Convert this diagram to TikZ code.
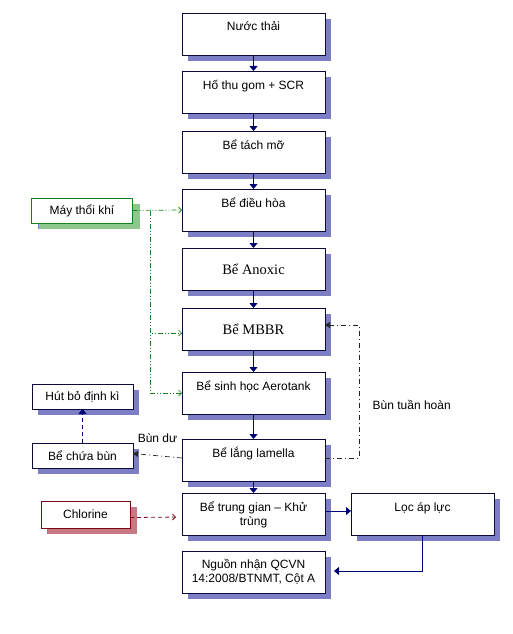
\documentclass[tikz,border=0pt]{standalone}
\usepackage{fontspec}
\setmainfont{Liberation Sans}
\newfontfamily\serifbox{Liberation Serif}
\usepackage{xcolor}
\usetikzlibrary{arrows.meta,positioning,shadows}

\definecolor{navyline}{RGB}{0,0,120}
\definecolor{boxline}{RGB}{10,10,60}
\definecolor{shadowblue}{RGB}{126,126,196}
\definecolor{airgreen}{RGB}{20,130,30}
\definecolor{shadowgreen}{RGB}{140,200,140}
\definecolor{chlorred}{RGB}{120,10,20}
\definecolor{shadowred}{RGB}{200,120,130}

\newcommand{\toptext}[1]{\parbox[t][30pt][t]{137pt}{\centering\rule{0pt}{12pt}#1}}

\begin{document}
\begin{tikzpicture}[
    x=1pt, y=-1pt,
    font=\fontsize{12}{14}\selectfont,
    stage/.style={
        draw=boxline,
        fill=white,
        line width=0.8pt,
        outer sep=0pt,
        minimum width=143pt,
        minimum height=42pt,
        inner xsep=3pt,
        inner ysep=6pt,
        align=center,
        general shadow={fill=shadowblue, shadow xshift=6pt, shadow yshift=-6pt}
    },
    sidebox/.style={
        draw=boxline,
        fill=white,
        line width=0.8pt,
        outer sep=0pt,
        minimum width=101pt,
        minimum height=25pt,
        inner sep=2pt,
        general shadow={fill=shadowblue, shadow xshift=6pt, shadow yshift=-6pt}
    },
    airbox/.style={
        sidebox,
        draw=airgreen,
        general shadow={fill=shadowgreen, shadow xshift=7pt, shadow yshift=-6pt}
    },
    chlorbox/.style={
        sidebox,
        draw=chlorred,
        minimum width=89pt,
        minimum height=27pt,
        general shadow={fill=shadowred, shadow xshift=7pt, shadow yshift=-6pt}
    },
    flow/.style={
        -{Triangle[length=5pt,width=8pt]},
        draw=navyline,
        line width=0.8pt
    },
    air/.style={
        -{Straight Barb[length=3pt,width=6pt]},
        draw=airgreen,
        line width=0.7pt,
        dash pattern=on 5pt off 2pt on 1pt off 2pt on 1pt off 2pt
    },
    sludge/.style={
        -{Triangle[length=5pt,width=6pt]},
        draw=black!85,
        line width=0.7pt,
        dash pattern=on 5pt off 3pt on 1pt off 3pt
    },
    dose/.style={
        -{Straight Barb[length=3pt,width=6pt]},
        draw=chlorred,
        line width=0.8pt,
        dash pattern=on 4pt off 3pt
    }
]

\useasboundingbox (0,0) rectangle (512,634);

%---------------------------------------------------------------------
% Main treatment line
%---------------------------------------------------------------------

\node[stage] (n1) at (253.5,34) {\toptext{Nước thải}};
\node[stage, below=16pt of n1] (n2) {\toptext{Hố thu gom + SCR}};
\node[stage, below=18pt of n2] (n3) {\toptext{Bể tách mỡ}};
\node[stage, below=16pt of n3] (n4) {\toptext{Bể điều hòa}};
\node[stage, below=17pt of n4, font=\serifbox\fontsize{14.5}{16}\selectfont] (n5) {Bể Anoxic};
\node[stage, below=18pt of n5, font=\serifbox\fontsize{14.5}{16}\selectfont] (n6) {Bể MBBR};
\node[stage, below=22pt of n6] (n7) {\toptext{Bể sinh học Aerotank}};
\node[stage, below=25pt of n7] (n8) {\toptext{Bể lắng lamella}};
\node[stage, below=12pt of n8] (n9) {\toptext{Bể trung gian – Khử\\trùng}};
\node[stage, below=16pt of n9] (n10) {Nguồn nhận QCVN\\14:2008/BTNMT, Cột A};

\node[stage, right=26pt of n9] (filter) {\toptext{Lọc áp lực}};

%---------------------------------------------------------------------
% Side units
%---------------------------------------------------------------------

\node[airbox] (blower) at (82,210.5) {Máy thổi khí};
\node[sidebox] (disposal) at (82.5,396.5) {Hút bỏ định kì};
\node[sidebox] (sludgetank) at (82.5,455.5) {Bể chứa bùn};
\node[chlorbox] (chlorine) at (85.5,514.5) {Chlorine};

%---------------------------------------------------------------------
% Main flow
%---------------------------------------------------------------------

\foreach \a/\b in {n1/n2, n2/n3, n3/n4, n4/n5, n5/n6, n6/n7, n7/n8, n8/n9}
    \draw[flow] (\a.south) -- (\b.north);

\draw[flow] ([yshift=3pt]n9.east) -- ([yshift=3pt]filter.west);
\draw[flow, shorten >=9pt] (filter.south) |- ([yshift=1pt]n10.east);

%---------------------------------------------------------------------
% Air supply
%---------------------------------------------------------------------

\coordinate (airtap) at ([xshift=18pt]blower.east);
\draw[air] (blower.east) -- (n4.west);
\draw[air] (airtap) |- ([yshift=-4pt]n6.west);
\draw[air] (airtap) |- (n7.west);

%---------------------------------------------------------------------
% Sludge lines
%---------------------------------------------------------------------

\draw[sludge] ([yshift=2pt]n8.west) -- ([yshift=2pt]sludgetank.east)
    node[midway, above=9pt] (excess) {Bùn dư};
\draw[sludge] ([yshift=2pt]n8.east) -- ++(34,0)
    |- node[pos=0.2, anchor=west, xshift=10pt] (returnlbl) {Bùn tuần hoàn}
    ([yshift=4pt]n6.east);
\draw[flow, dash pattern=on 4pt off 3pt] (sludgetank.north) -- (disposal.south);

%---------------------------------------------------------------------
% Disinfection
%---------------------------------------------------------------------

\draw[dose, shorten >=6pt] ([yshift=-3pt]chlorine.east) -- ([yshift=-3pt]n9.west);

\end{tikzpicture}
\end{document}
